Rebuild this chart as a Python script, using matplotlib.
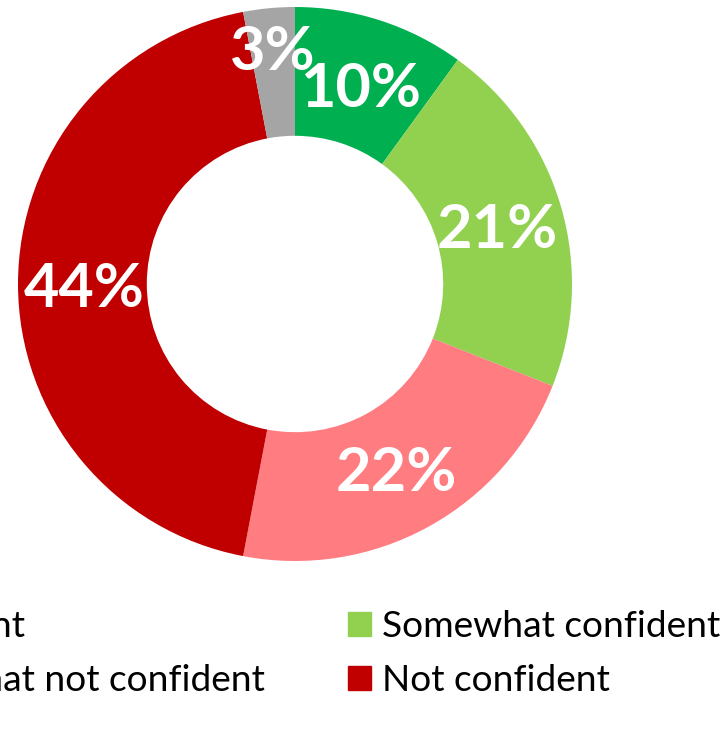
import numpy as np
import matplotlib
matplotlib.use("Agg")
import matplotlib.pyplot as plt
from matplotlib.patches import Patch

categorias = ["Confident", "Somewhat confident", "Somewhat not confident",
              "Not confident", "Don't know"]
valores = [10, 21, 22, 44, 3]
colores = ["#00B050", "#92D050", "#FF7C80", "#C00000", "#A5A5A5"]

plt.rcParams['font.family'] = ['Lato', 'DejaVu Sans']

fig = plt.figure(figsize=(7.23, 7.49), dpi=100)
# centro del anillo en (295, 284) px, radio 277 px
ax = fig.add_axes([18 / 723, 188 / 749, 554 / 723, 554 / 749])

wedges, _ = ax.pie(valores, colors=colores, startangle=90, counterclock=False,
                   radius=1.0, wedgeprops=dict(width=0.465, linewidth=0))
ax.set_xlim(-1, 1)
ax.set_ylim(-1, 1)
ax.set_aspect('auto')
ax.axis('off')

# etiquetas de porcentaje dentro del anillo
for w, v in zip(wedges, valores):
    ang = np.deg2rad((w.theta1 + w.theta2) / 2)
    r = 0.86 if v < 5 else 0.76
    ax.text(r * np.cos(ang), r * np.sin(ang), f"{v}%", color="white",
            fontsize=44, fontweight="bold", ha="center", va="center_baseline")

# leyenda en dos columnas (la izquierda queda recortada como en el original)
h = [Patch(color=c) for c in colores[:4]]
opts = dict(frameon=False, fontsize=26.7, handlelength=0.62, handleheight=0.62,
            handletextpad=0.3, labelspacing=0.56, borderpad=0, borderaxespad=0)
leg1 = fig.legend([h[0], h[2]], [categorias[0], categorias[2]], loc="upper right",
                  bbox_to_anchor=(265 / 723, 1 - 610 / 749), **opts)
leg2 = fig.legend([h[1], h[3]], [categorias[1], categorias[3]], loc="upper left",
                  bbox_to_anchor=(348 / 723, 1 - 610 / 749), **opts)

fig.savefig("out.png", dpi=100)
